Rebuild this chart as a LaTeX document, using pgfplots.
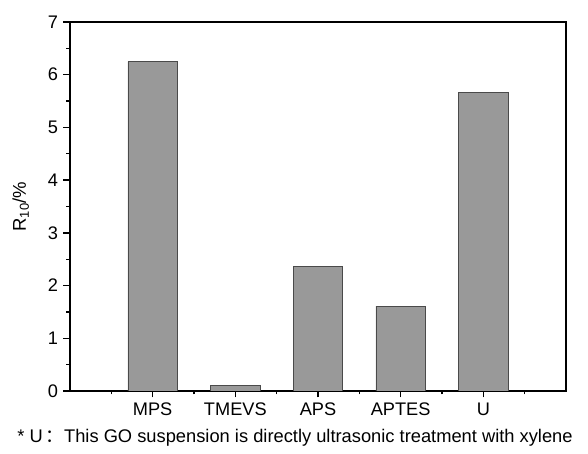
\documentclass[border=0pt]{standalone}
\usepackage{pgfplots}
\pgfplotsset{compat=1.18}
\usepackage{fontspec}
\setmainfont{Liberation Sans}
\newfontfamily\cjk{Noto Sans CJK SC}
\definecolor{barfill}{HTML}{999999}
\definecolor{baredge}{HTML}{4A4A4A}
\begin{document}
\begin{tikzpicture}
\path[use as bounding box] (-70pt,-63pt) rectangle (518pt,391pt);
\begin{axis}[
  at={(0pt,0pt)}, anchor=south west,
  width=496pt, height=369pt, scale only axis,
  xmin=0, xmax=6, ymin=0, ymax=7,
  xtick={1,2,3,4,5}, xticklabels={MPS,TMEVS,APS,APTES,U},
  minor xtick={0.5,1.5,2.5,3.5,4.5,5.5},
  ytick={0,1,2,3,4,5,6,7},
  minor ytick={0.5,1.5,2.5,3.5,4.5,5.5,6.5},
  xtick pos=bottom, ytick pos=left,
  tick align=outside,
  major tick length=6.5pt, minor tick length=3.5pt,
  every tick/.style={black, line width=1.4pt},
  axis line style={black, line width=1.8pt},
  /pgf/number format/assume math mode=true,
  tick label style={font=\fontsize{18.2}{21}\selectfont},
  yticklabel style={xshift=-2pt},
  xticklabel style={yshift=-2pt},
  ylabel={R\textsubscript{10}/\%},
  ylabel style={font=\fontsize{18.5}{22}\selectfont, yshift=12pt},
  ybar, bar width=0.6,
]
\addplot[fill=barfill, draw=baredge, line width=0.7pt] coordinates {
  (1,6.25) (2,0.10) (3,2.37) (4,1.61) (5,5.67)
};
\end{axis}
\node[font=\fontsize{18.3}{22}\selectfont, anchor=center] at (225pt,-47pt)
  {* U\,{\cjk ：}This GO suspension is directly ultrasonic treatment with xylene};
\end{tikzpicture}
\end{document}
